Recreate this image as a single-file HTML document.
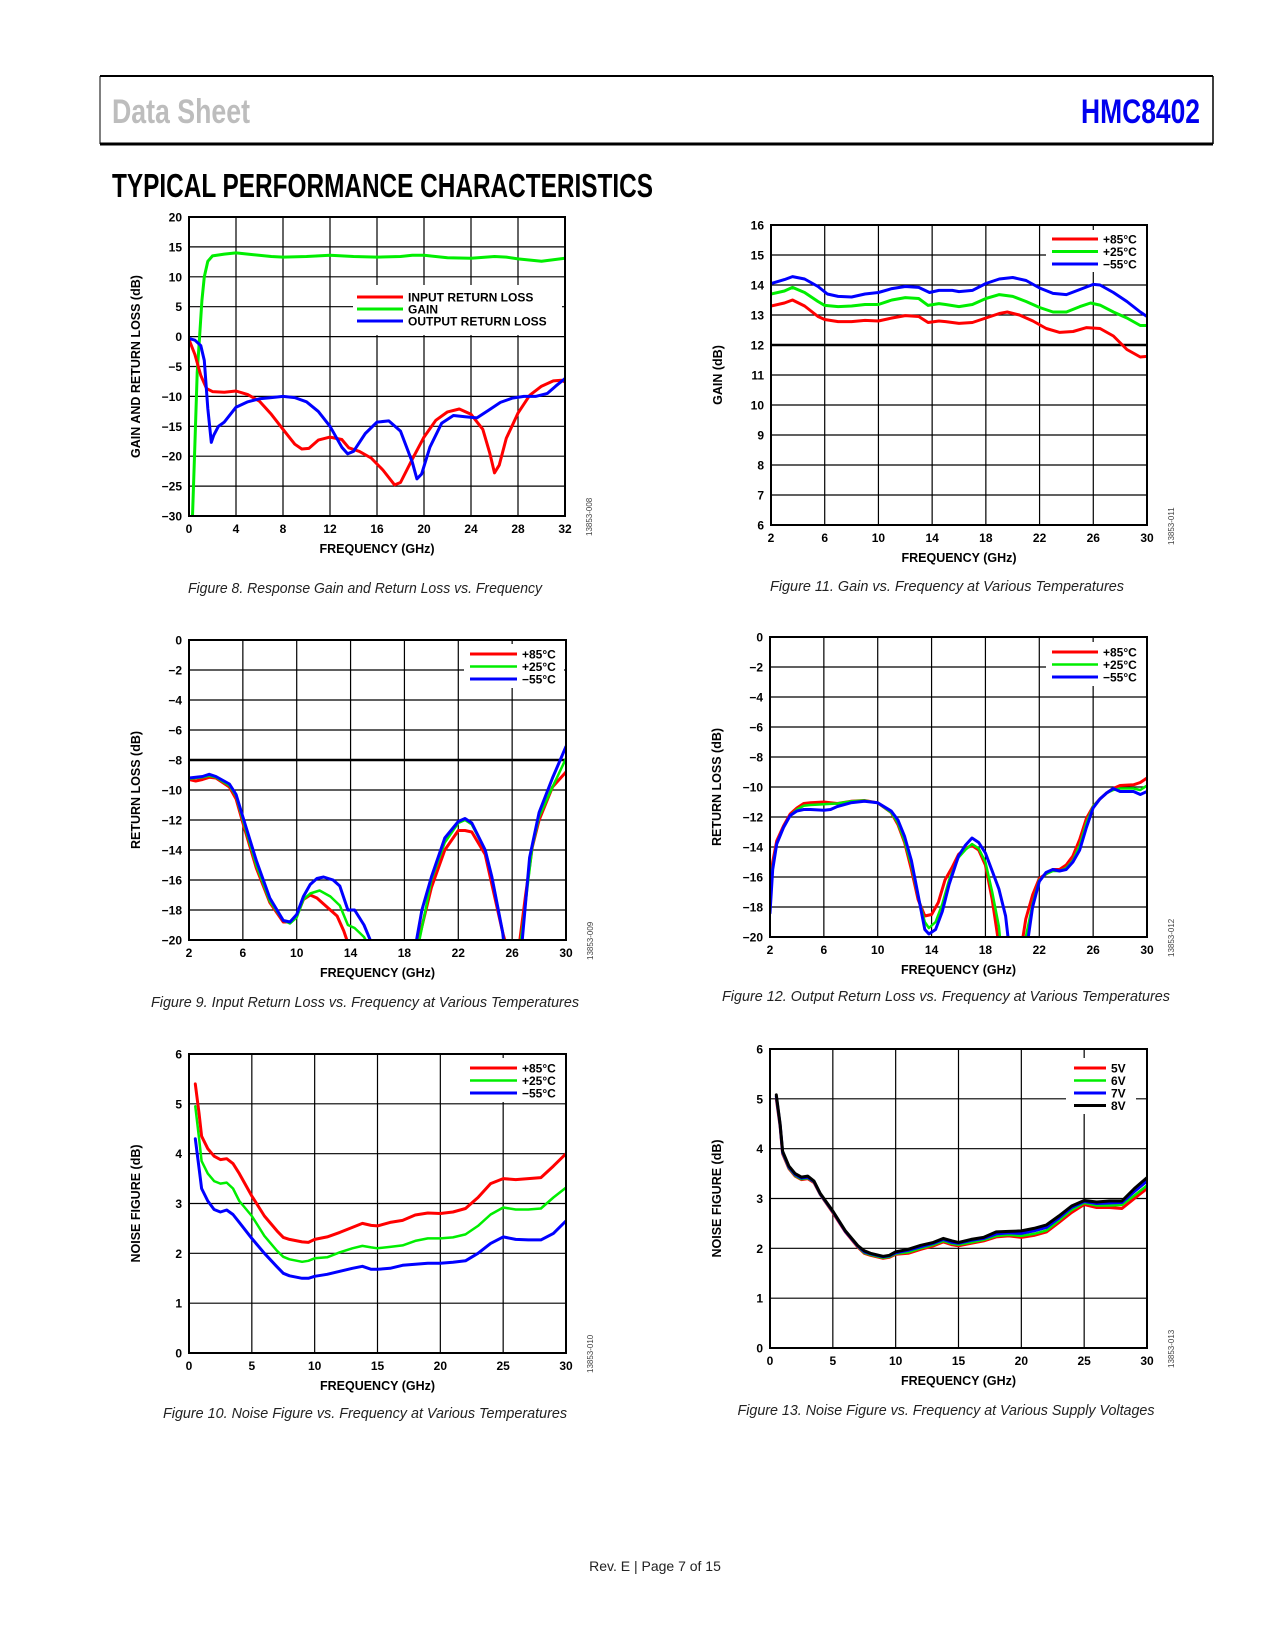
<!DOCTYPE html>
<html><head><meta charset="utf-8"><title>HMC8402 Typical Performance Characteristics</title>
<style>
html,body{margin:0;padding:0;background:#fff;}
svg{display:block;}
text{font-family:"Liberation Sans",sans-serif;}
</style></head>
<body>
<svg id="page" xmlns="http://www.w3.org/2000/svg" width="1275" height="1650" viewBox="0 0 1275 1650">
  <g>
    <line x1="100" y1="76" x2="1213" y2="76" stroke="#000" stroke-width="2"/>
    <line x1="100" y1="144" x2="1213" y2="144" stroke="#000" stroke-width="3"/>
    <line x1="100" y1="76" x2="100" y2="144" stroke="#000" stroke-width="1"/>
    <line x1="1213" y1="76" x2="1213" y2="144" stroke="#000" stroke-width="1.5"/>
    <text x="112" y="123" font-size="34" font-weight="bold" fill="#bdbdbd" textLength="138" lengthAdjust="spacingAndGlyphs">Data Sheet</text>
    <text x="1081" y="123" font-size="34" font-weight="bold" fill="#0000ee" textLength="119" lengthAdjust="spacingAndGlyphs">HMC8402</text>
  </g>
  <text x="112" y="197" font-size="33" font-weight="bold" fill="#000" textLength="541" lengthAdjust="spacingAndGlyphs">TYPICAL PERFORMANCE CHARACTERISTICS</text>
  <g id="charts"></g>
  <g font-style="italic" font-size="15" fill="#222">
    <text x="365" y="593" text-anchor="middle" textLength="354" lengthAdjust="spacingAndGlyphs">Figure 8. Response Gain and Return Loss vs. Frequency</text>
    <text x="947" y="591" text-anchor="middle" textLength="354" lengthAdjust="spacingAndGlyphs">Figure 11. Gain vs. Frequency at Various Temperatures</text>
    <text x="365" y="1007" text-anchor="middle" textLength="428" lengthAdjust="spacingAndGlyphs">Figure 9. Input Return Loss vs. Frequency at Various Temperatures</text>
    <text x="946" y="1001" text-anchor="middle" textLength="448" lengthAdjust="spacingAndGlyphs">Figure 12. Output Return Loss vs. Frequency at Various Temperatures</text>
    <text x="365" y="1418" text-anchor="middle" textLength="404" lengthAdjust="spacingAndGlyphs">Figure 10. Noise Figure vs. Frequency at Various Temperatures</text>
    <text x="946" y="1415" text-anchor="middle" textLength="417" lengthAdjust="spacingAndGlyphs">Figure 13. Noise Figure vs. Frequency at Various Supply Voltages</text>
  </g>
  <text x="655" y="1571" text-anchor="middle" font-size="14" fill="#222">Rev. E | Page 7 of 15</text>
</svg>
<script>
// ---------- Figure 8 data ----------
const f8GainX = [0.3,0.5,0.7,0.9,1.1,1.3,1.6,2,3,4,5,7,8,10,12,13,14,16,18,19,20,22,24,26,27,28,30,32];
const f8GainY = [-30,-18,-6,0,6,10,12.6,13.5,13.8,14,13.8,13.4,13.3,13.4,13.6,13.5,13.4,13.3,13.4,13.6,13.6,13.2,13.1,13.4,13.3,13,12.6,13.1];
const f8InX = [0,0.5,1,1.5,2,3,4,5,6,7,8,9,9.6,10.2,11,12,13,13.6,14.5,15.5,16.5,17.5,18,19,20,21,22,23,24,25,25.6,26,26.4,27,28,29,30,31,31.7,32];
const f8InY = [-0.5,-3,-6.5,-8.7,-9.2,-9.3,-9.1,-9.7,-10.8,-13,-15.5,-18,-18.8,-18.7,-17.3,-16.8,-17.2,-18.6,-19.2,-20.3,-22.3,-24.8,-24.4,-20.5,-16.8,-14,-12.6,-12.1,-13,-15.5,-19.5,-22.8,-21.5,-17,-12.8,-9.8,-8.3,-7.4,-7.3,-7.6];
const f8OutX = [0,0.5,1,1.3,1.6,1.9,2.1,2.5,3,4,5,6,7,8,9,10,11,12,13,13.5,14,15,16,17,18,19,19.4,19.8,20.5,21.5,22.5,23.5,24.5,25.5,26.5,27.5,28.5,29.5,30.5,31.2,32];
const f8OutY = [-0.3,-0.6,-1.5,-4,-12,-17.7,-16.5,-15,-14.3,-11.8,-10.9,-10.4,-10.2,-10,-10.2,-10.9,-12.5,-15,-18.5,-19.6,-19.2,-16.2,-14.3,-14.1,-15.8,-21,-23.8,-23,-18.5,-14.5,-13.2,-13.4,-13.6,-12.3,-11,-10.3,-10,-10,-9.5,-8.3,-7];
const f8XTicks = [0,4,8,12,16,20,24,28,32];
const f8YTicks = [-30,-25,-20,-15,-10,-5,0,5,10,15,20];
const f8Legend = ["INPUT RETURN LOSS","GAIN","OUTPUT RETURN LOSS"];

// ---------- Figure 11 data ----------
const f11RedX = [2,3,3.6,4.5,5.5,6,7,8,9,10,11,12,13,13.7,14.5,15,16,17,18,19,19.6,20.5,21.5,22.5,23.5,24.5,25.5,26.5,27.5,28.5,29.5,30];
const f11RedY = [13.3,13.4,13.5,13.3,12.95,12.85,12.78,12.78,12.82,12.8,12.9,12.98,12.95,12.75,12.8,12.78,12.72,12.75,12.9,13.05,13.1,13,12.8,12.55,12.42,12.45,12.58,12.55,12.3,11.85,11.6,11.62];
const f11GreenX = [2,3,3.6,4.5,5.5,6,7,8,9,10,11,12,13,13.7,14.5,15,16,17,18,19,20,21,22,23,24,25,25.8,26.5,27.5,28.5,29.5,30];
const f11GreenY = [13.7,13.8,13.92,13.75,13.45,13.32,13.28,13.3,13.35,13.35,13.5,13.58,13.55,13.32,13.38,13.35,13.28,13.35,13.55,13.68,13.62,13.45,13.25,13.1,13.1,13.28,13.4,13.33,13.1,12.9,12.65,12.65];
const f11BlueX = [2,3,3.6,4.5,5.5,6.2,7,8,9,10,11,12,13,13.8,14.5,15.5,16,17,18,19,20,21,22,23,24,25,26,26.5,27.5,28.5,29.5,30];
const f11BlueY = [14.05,14.18,14.28,14.2,13.95,13.7,13.62,13.6,13.7,13.75,13.88,13.95,13.92,13.75,13.82,13.82,13.78,13.82,14.05,14.2,14.25,14.15,13.9,13.72,13.68,13.85,14.02,14,13.75,13.45,13.1,12.95];
const f11XTicks = [2,6,10,14,18,22,26,30];
const f11YTicks = [6,7,8,9,10,11,12,13,14,15,16];
const tempLegend = ["+85°C","+25°C","\u221255°C"];

// ---------- Figure 9 data ----------
const f9RedX = [2,2.5,3,3.5,4,5,5.5,6,7,8,9,9.5,10,10.5,11,11.5,12,13,13.5,13.8,14.2,18.6,19,20,21,22,22.5,23,24,24.5,25.3,25.6,26,26.3,26.5,27,27.5,28,29,30];
const f9RedY = [-9.3,-9.4,-9.3,-9.15,-9.2,-9.8,-10.6,-12.2,-15.2,-17.5,-18.8,-18.8,-18.4,-17.3,-17,-17.2,-17.6,-18.4,-19.4,-20.2,-23,-23,-20.2,-16.5,-14,-12.7,-12.7,-12.8,-14.3,-16.3,-19.5,-20.5,-23,-23,-20.5,-17,-13.8,-12,-9.8,-8.8];
const f9GreenX = [2,3,3.5,4,5,5.5,6,7,8,9,9.5,10,10.5,11,11.7,12.5,13.2,13.8,14.3,15,15.3,15.6,18.5,19,19.5,20,21,22,22.5,23,24,24.5,25.3,25.8,26.2,26.8,27.5,28,29,30];
const f9GreenY = [-9.25,-9.15,-9.05,-9.15,-9.7,-10.4,-12,-15,-17.4,-18.7,-18.9,-18.5,-17.3,-16.9,-16.7,-17.1,-17.7,-19,-19.2,-19.8,-20.3,-23,-23,-20.5,-18.3,-16,-13.5,-12.2,-12,-12.3,-14,-15.8,-19.5,-23,-23,-19,-13.8,-11.8,-9.8,-7.9];
const f9BlueX = [2,3,3.5,4,5,5.5,6,7,8,9,9.5,10,10.5,11,11.5,12,12.7,13.2,13.8,14.3,15,15.6,16,18.5,18.8,19.3,20,21,22,22.5,23,24,24.5,25.3,25.7,26.4,26.7,27.3,28,29,30];
const f9BlueY = [-9.2,-9.1,-8.95,-9.1,-9.6,-10.3,-11.8,-14.7,-17.2,-18.7,-18.8,-18.3,-17.1,-16.3,-15.9,-15.8,-16,-16.4,-18,-18,-19,-20.3,-23,-23,-20.5,-18,-15.8,-13.2,-12.1,-11.9,-12.2,-14,-15.8,-19.5,-23,-23,-20.5,-14.5,-11.5,-9.2,-7.1];
const rlXTicks = [2,6,10,14,18,22,26,30];
const rlYTicks = [-20,-18,-16,-14,-12,-10,-8,-6,-4,-2,0];

// ---------- Figure 12 data ----------
const f12RedX = [2,2.2,2.5,3,3.5,4,4.5,5,6,7,8,9,10,11,11.5,12,12.5,13,13.5,14,14.5,15,15.5,16,16.5,17,17.5,18,18.5,19,19.3,20.4,20.7,21,21.5,22,22.5,23,23.5,24,24.5,25,25.5,26,26.5,27,27.5,28,29,29.5,30];
const f12RedY = [-16.8,-15,-13.6,-12.6,-11.8,-11.4,-11.1,-11.05,-11,-11.1,-10.95,-10.9,-11.05,-11.7,-12.5,-13.7,-15.5,-17.5,-18.6,-18.5,-17.7,-16.2,-15.4,-14.5,-14.1,-13.9,-14.2,-15.2,-17.5,-20.5,-23,-23,-20.5,-18.8,-17.2,-16.1,-15.8,-15.5,-15.5,-15.2,-14.6,-13.5,-12.1,-11.3,-10.8,-10.4,-10.1,-9.9,-9.85,-9.7,-9.4];
const f12GreenX = [2,2.2,2.5,3,3.5,4,4.5,5,6,7,8,9,10,11,11.5,12,12.5,13,13.5,13.8,14.3,14.8,15.3,16,16.5,17,17.5,18,18.5,19,19.4,20.7,21,21.5,22,22.5,23,23.5,24,24.5,25,25.5,26,26.5,27,27.5,28,29,29.5,30];
const f12GreenY = [-17.3,-15.3,-13.8,-12.7,-11.9,-11.5,-11.25,-11.2,-11.15,-11.1,-10.95,-10.9,-11.05,-11.7,-12.4,-13.6,-15.2,-17.3,-19,-19.4,-19,-17.8,-16.2,-14.7,-14.2,-13.8,-14.1,-15,-17,-19.3,-23,-23,-20,-17.8,-16.2,-15.8,-15.6,-15.6,-15.4,-14.9,-13.9,-12.4,-11.3,-10.8,-10.4,-10.2,-10.1,-10.1,-10.2,-9.9];
const f12BlueX = [2,2.2,2.5,3,3.5,4,4.5,5,6,6.5,7,8,9,10,11,11.5,12,12.5,13,13.5,13.8,14.3,14.8,15.3,16,16.5,17,17.5,18,18.5,19,19.5,19.8,20,20.9,21.1,21.5,22,22.5,23,23.5,24,24.5,25,25.5,26,26.5,27,27.5,28,29,29.5,30];
const f12BlueY = [-18.4,-15.5,-13.8,-12.7,-11.9,-11.6,-11.5,-11.5,-11.55,-11.5,-11.3,-11.05,-10.95,-11.05,-11.6,-12.2,-13.3,-14.9,-17.2,-19.5,-19.8,-19.5,-18.3,-16.5,-14.6,-13.9,-13.4,-13.7,-14.4,-15.6,-16.8,-18.6,-21,-23,-23,-20.5,-18,-16.3,-15.7,-15.5,-15.6,-15.5,-15,-14.2,-12.7,-11.4,-10.8,-10.4,-10.1,-10.3,-10.3,-10.5,-10.3];

// ---------- Figure 10 data ----------
const nfX = [0.5,0.8,1,1.5,2,2.5,3,3.5,4,5,6,7,7.5,8,9,9.5,10,11,12,13,13.8,14.5,15,16,17,18,19,20,21,22,23,24,25,26,27,28,29,30];
const f10Red = [5.4,4.8,4.35,4.1,3.95,3.88,3.9,3.8,3.6,3.15,2.75,2.45,2.32,2.28,2.23,2.22,2.28,2.33,2.42,2.52,2.6,2.56,2.55,2.62,2.66,2.77,2.81,2.8,2.83,2.9,3.12,3.4,3.5,3.48,3.5,3.52,3.75,4.0];
const f10Green = [4.95,4.3,3.85,3.6,3.45,3.4,3.42,3.3,3.05,2.75,2.35,2.05,1.93,1.88,1.83,1.85,1.9,1.92,2.02,2.1,2.15,2.12,2.1,2.13,2.16,2.25,2.3,2.3,2.32,2.38,2.55,2.78,2.92,2.88,2.88,2.9,3.12,3.32];
const f10Blue = [4.3,3.7,3.3,3.05,2.88,2.83,2.87,2.78,2.62,2.3,2.0,1.73,1.6,1.55,1.5,1.5,1.54,1.58,1.64,1.7,1.74,1.68,1.68,1.7,1.76,1.78,1.8,1.8,1.82,1.85,2.0,2.2,2.33,2.28,2.27,2.27,2.4,2.65];
const nfXTicks = [0,5,10,15,20,25,30];
const nfYTicks = [0,1,2,3,4,5,6];

// ---------- Figure 13 data ----------
const f13V5 = [5.0,4.45,3.9,3.6,3.45,3.38,3.4,3.32,3.08,2.72,2.33,2.02,1.9,1.86,1.8,1.82,1.88,1.9,1.98,2.05,2.13,2.07,2.05,2.1,2.15,2.23,2.25,2.22,2.26,2.33,2.52,2.72,2.88,2.82,2.82,2.8,3.0,3.2];
const f13V6 = [5.02,4.46,3.91,3.61,3.46,3.39,3.41,3.33,3.08,2.73,2.34,2.03,1.91,1.87,1.81,1.83,1.89,1.92,2.0,2.07,2.15,2.09,2.07,2.12,2.17,2.25,2.27,2.25,2.29,2.36,2.56,2.77,2.91,2.86,2.86,2.87,3.06,3.26];
const f13V7 = [5.05,4.48,3.93,3.63,3.48,3.41,3.43,3.34,3.09,2.74,2.34,2.04,1.93,1.89,1.83,1.85,1.91,1.96,2.03,2.1,2.18,2.12,2.1,2.16,2.2,2.29,2.31,2.3,2.35,2.42,2.61,2.82,2.94,2.9,2.91,2.92,3.14,3.35];
const f13V8 = [5.08,4.5,3.95,3.65,3.5,3.43,3.45,3.35,3.1,2.75,2.35,2.05,1.95,1.9,1.84,1.86,1.93,1.98,2.06,2.12,2.2,2.15,2.12,2.18,2.22,2.33,2.34,2.35,2.4,2.47,2.65,2.85,2.96,2.93,2.95,2.95,3.2,3.42];
const voltLegend = ["5V","6V","7V","8V"];

const NS = "http://www.w3.org/2000/svg";
const root = document.getElementById('charts');
function mk(tag, attrs, parent){
  const e = document.createElementNS(NS, tag);
  for (const k in attrs) e.setAttribute(k, attrs[k]);
  parent.appendChild(e);
  return e;
}

function drawChart(c){
  const g = mk('g', {}, root);
  
  
  const L=c.box[0], R=c.box[1], T=c.box[2], B=c.box[3];
  const sx = v => L + (v - c.xd[0]) / (c.xd[1] - c.xd[0]) * (R - L);
  const sy = v => B - (v - c.yd[0]) / (c.yd[1] - c.yd[0]) * (B - T);
  const grid = mk('g', {}, g);
  
  
  c.xt.forEach(v => { mk('line', {x1:sx(v), x2:sx(v), y1:T, y2:B, stroke:'#000', 'stroke-width':1.2}, grid); });
  c.yt.forEach(v => { const w = (c.boldY !== undefined && v === c.boldY) ? 2.5 : 1.2;
    mk('line', {x1:L, x2:R, y1:sy(v), y2:sy(v), stroke:'#000', 'stroke-width':w}, grid); });
  if (c.leg) {
    const lb = mk('rect', {x:c.leg.bx[0], y:c.leg.bx[1], width:c.leg.bx[2], height:c.leg.bx[3], fill:'#fff'}, g);
    
    
  }
  const cp = 'clip-' + c.name;
  const defs = mk('defs', {}, g);
  const clip = mk('clipPath', {id:cp}, defs);
  mk('rect', {x:L, y:T, width:R-L, height:B-T}, clip);
  const sg = mk('g', {'clip-path':'url(#'+cp+')'}, g);
  c.series.forEach(s => {
    let d = '';
    s.x.forEach((xv, i) => { d += (i ? 'L' : 'M') + sx(xv).toFixed(1) + ',' + sy(s.y[i]).toFixed(1); });
    const p = mk('path', {d:d, fill:'none', stroke:s.color, 'stroke-width':s.w || 3, 'stroke-linejoin':'round', 'stroke-linecap':'round'}, sg);
    
    
  });
  mk('rect', {x:L, y:T, width:R-L, height:B-T, fill:'none', stroke:'#000', 'stroke-width':2}, g);
  if (c.leg) {
    c.leg.labels.forEach((lab, i) => {
      const y = c.leg.y0 + i * c.leg.dy;
      const s = c.series[c.leg.order[i]];
      const ln = mk('line', {x1:c.leg.x1, x2:c.leg.x2, y1:y, y2:y, stroke:s.color, 'stroke-width':s.w || 3}, g);
      
      
      const t = mk('text', {x:c.leg.x2 + 5, y:y + 4.5, 'font-size':12, 'font-weight':'bold'}, g);
      t.textContent = lab;
      
      
    });
  }
  c.xt.forEach(v => {
    const t = mk('text', {x:sx(v), y:B + 17, 'font-size':12, 'font-weight':'bold', 'text-anchor':'middle'}, g);
    t.textContent = String(v);
    
    
  });
  c.yt.forEach(v => {
    const t = mk('text', {x:L - 7, y:sy(v) + 4.5, 'font-size':12, 'font-weight':'bold', 'text-anchor':'end'}, g);
    t.textContent = v < 0 ? '\u2212' + Math.abs(v) : String(v);
    
    
  });
  const xtl = mk('text', {x:(L + R) / 2, y:B + 37, 'font-size':12.5, 'font-weight':'bold', 'text-anchor':'middle'}, g);
  xtl.textContent = 'FREQUENCY (GHz)';
  
  
  const yx = L - 49, yy = (T + B) / 2;
  const ytl = mk('text', {x:yx, y:yy, 'font-size':12.5, 'font-weight':'bold', 'text-anchor':'middle', transform:'rotate(-90 ' + yx + ' ' + yy + ')'}, g);
  ytl.textContent = c.ytitle;
  
  
  const cx = R + 27, cy = B + 20;
  const code = mk('text', {x:cx, y:cy, 'font-size':8, fill:'#444', transform:'rotate(-90 ' + cx + ' ' + cy + ')'}, g);
  code.textContent = c.code;
  
  
}

const RED = '#ff0000', GRN = '#00ee00', BLU = '#0000ff';

drawChart({name:'chart-figure-8', box:[189,565,217,516], xd:[0,32], yd:[-30,20], xt:f8XTicks, yt:f8YTicks,
  ytitle:'GAIN AND RETURN LOSS (dB)', code:'13853-008',
  series:[{name:'series-gain', x:f8GainX, y:f8GainY, color:GRN},
          {name:'series-input-return-loss', x:f8InX, y:f8InY, color:RED},
          {name:'series-output-return-loss', x:f8OutX, y:f8OutY, color:BLU}],
  leg:{bx:[353,285,209,50], x1:357, x2:403, y0:297, dy:12, labels:f8Legend, order:[1,0,2]}});

drawChart({name:'chart-figure-11', box:[771,1147,225,525], xd:[2,30], yd:[6,16], xt:f11XTicks, yt:f11YTicks, boldY:12,
  ytitle:'GAIN (dB)', code:'13853-011',
  series:[{name:'series-85c', x:f11RedX, y:f11RedY, color:RED},
          {name:'series-25c', x:f11GreenX, y:f11GreenY, color:GRN},
          {name:'series-minus55c', x:f11BlueX, y:f11BlueY, color:BLU}],
  leg:{bx:[1046,230,100,42], x1:1052, x2:1098, y0:239, dy:12.5, labels:tempLegend, order:[0,1,2]}});

drawChart({name:'chart-figure-9', box:[189,566,640,940], xd:[2,30], yd:[-20,0], xt:rlXTicks, yt:rlYTicks, boldY:-8,
  ytitle:'RETURN LOSS (dB)', code:'13853-009',
  series:[{name:'series-85c', x:f9RedX, y:f9RedY, color:RED},
          {name:'series-25c', x:f9GreenX, y:f9GreenY, color:GRN, w:2.5},
          {name:'series-minus55c', x:f9BlueX, y:f9BlueY, color:BLU}],
  leg:{bx:[464,644,100,44], x1:470, x2:517, y0:654, dy:12.5, labels:tempLegend, order:[0,1,2]}});

drawChart({name:'chart-figure-12', box:[770,1147,637,937], xd:[2,30], yd:[-20,0], xt:rlXTicks, yt:rlYTicks,
  ytitle:'RETURN LOSS (dB)', code:'13853-012',
  series:[{name:'series-85c', x:f12RedX, y:f12RedY, color:RED},
          {name:'series-25c', x:f12GreenX, y:f12GreenY, color:GRN, w:2.5},
          {name:'series-minus55c', x:f12BlueX, y:f12BlueY, color:BLU}],
  leg:{bx:[1046,642,100,44], x1:1052, x2:1098, y0:652, dy:12.5, labels:tempLegend, order:[0,1,2]}});

drawChart({name:'chart-figure-10', box:[189,566,1054,1353], xd:[0,30], yd:[0,6], xt:nfXTicks, yt:nfYTicks,
  ytitle:'NOISE FIGURE (dB)', code:'13853-010',
  series:[{name:'series-85c', x:nfX, y:f10Red, color:RED},
          {name:'series-25c', x:nfX, y:f10Green, color:GRN, w:2.5},
          {name:'series-minus55c', x:nfX, y:f10Blue, color:BLU}],
  leg:{bx:[464,1058,100,44], x1:470, x2:517, y0:1068, dy:12.5, labels:tempLegend, order:[0,1,2]}});

drawChart({name:'chart-figure-13', box:[770,1147,1049,1348], xd:[0,30], yd:[0,6], xt:nfXTicks, yt:nfYTicks,
  ytitle:'NOISE FIGURE (dB)', code:'13853-013',
  series:[{name:'series-5v', x:nfX, y:f13V5, color:RED},
          {name:'series-6v', x:nfX, y:f13V6, color:GRN, w:2.5},
          {name:'series-7v', x:nfX, y:f13V7, color:BLU},
          {name:'series-8v', x:nfX, y:f13V8, color:'#000'}],
  leg:{bx:[1066,1058,70,56], x1:1074, x2:1106, y0:1068, dy:12.5, labels:voltLegend, order:[0,1,2,3]}});
</script>
</body></html>
